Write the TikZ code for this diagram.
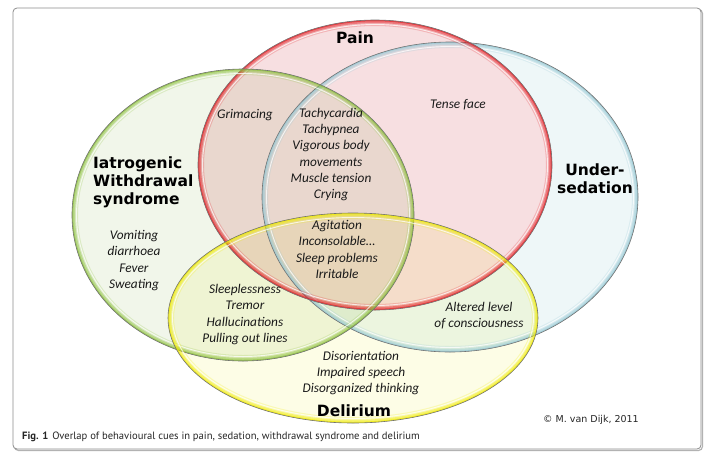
\documentclass[tikz,border=0pt]{standalone}
\usepackage{fontspec}
\setmainfont{Carlito}
\newfontfamily\vfont{DejaVu Sans}
\newfontfamily\capfont{PT Sans}
\definecolor{redfill}{RGB}{247,223,225}
\definecolor{bluefill}{RGB}{238,247,248}
\definecolor{greenfill}{RGB}{241,246,234}
\definecolor{yellowfill}{RGB}{253,253,230}
\definecolor{rededge}{RGB}{228,30,36}
\definecolor{blueedge}{RGB}{150,200,212}
\definecolor{greenedge}{RGB}{140,192,60}
\definecolor{yellowedge}{RGB}{240,236,0}
\definecolor{framegray}{RGB}{140,140,140}
\newcommand{\glowell}[4]{%
  \begin{scope}
    \clip (#1) ellipse ({#2} and {#3});
    \draw[#4, line width=12pt, opacity=0.22] (#1) ellipse ({#2} and {#3});
    \draw[#4, line width=6pt, opacity=0.4] (#1) ellipse ({#2} and {#3});
    \draw[#4, line width=2.5pt, opacity=0.65] (#1) ellipse ({#2} and {#3});
    \draw[white, line width=0.9pt, opacity=0.75] (#1) ellipse ({#2-4.5} and {#3-4.5});
  \end{scope}
  \draw[black!55, line width=0.6pt] (#1) ellipse ({#2} and {#3});
}
\tikzset{
  cue/.style={align=center, inner sep=0pt, font=\itshape\fontsize{13.3}{16.3}\selectfont, text=black!90},
  title/.style={align=center, inner sep=0pt, font=\vfont\bfseries\fontsize{15.5}{18}\selectfont},
}
\begin{document}
\begin{tikzpicture}[x=1pt,y=-1pt]
\useasboundingbox (0,0) rectangle (720,456);
% frame
\draw[black!30, line width=1.2pt, rounded corners=4pt] (14.5,9.5) rectangle (702.5,450.5);
\draw[framegray, line width=0.8pt, rounded corners=4pt, fill=white] (13,8) rectangle (701,449);
% centres
\coordinate (cP) at (375,165);
\coordinate (cS) at (450,197);
\coordinate (cW) at (243,215);
\coordinate (cD) at (353,318);
% fills
\fill[bluefill] (cS) ellipse (188 and 155);
\fill[redfill] (cP) ellipse (177 and 145);
\begin{scope}[blend mode=multiply]
  \fill[greenfill] (cW) ellipse (171 and 146);
  \fill[yellowfill] (cD) ellipse (185 and 105);
\end{scope}
% edges
\glowell{cS}{188}{155}{blueedge}
\glowell{cP}{177}{145}{rededge}
\glowell{cW}{171}{146}{greenedge}
\glowell{cD}{185}{105}{yellowedge}
% titles
\node[title] (tPain) at (355,38) {Pain};
\node[title] (tSed) at (595,179) {Under-\\sedation};
\node[title, align=left, anchor=west] (tWd) at (93,182) {Iatrogenic\\Withdrawal\\syndrome};
\node[title] (tDel) at (354,411) {Delirium};
% cues
\node[cue] (nGrim) at (245,115) {Grimacing};
\node[cue] (nTachy) at (331,154.5) {Tachycardia\\Tachypnea\\Vigorous body\\movements\\Muscle tension\\Crying};
\node[cue] (nTense) at (458,105) {Tense face};
\node[cue] (nAgit) at (337,249.5) {Agitation\\Inconsolable\ldots\\Sleep problems\\Irritable};
\node[cue] (nVom) at (134,260.5) {Vomiting\\diarrhoea\\Fever\\Sweating};
\node[cue] (nSleep) at (245,314.5) {Sleeplessness\\Tremor\\Hallucinations\\Pulling out lines};
\node[cue] (nAlt) at (479,315.5) {Altered level\\of consciousness};
\node[cue] (nDis) at (361,373) {Disorientation\\Impaired speech\\Disorganized thinking};
% copyright
\node[inner sep=0pt, font=\vfont\fontsize{9.5}{11}\selectfont, text=black!85] (nCopy) at (591,420) {© M. van Dijk, 2011};
% caption
\node[anchor=west, inner sep=0pt, font=\capfont\fontsize{10.6}{12}\selectfont, text=black!85] (nCap) at (22,437) {\textbf{Fig. 1}\hspace{4pt}Overlap of behavioural cues in pain, sedation, withdrawal syndrome and delirium};
\end{tikzpicture}
\end{document}
